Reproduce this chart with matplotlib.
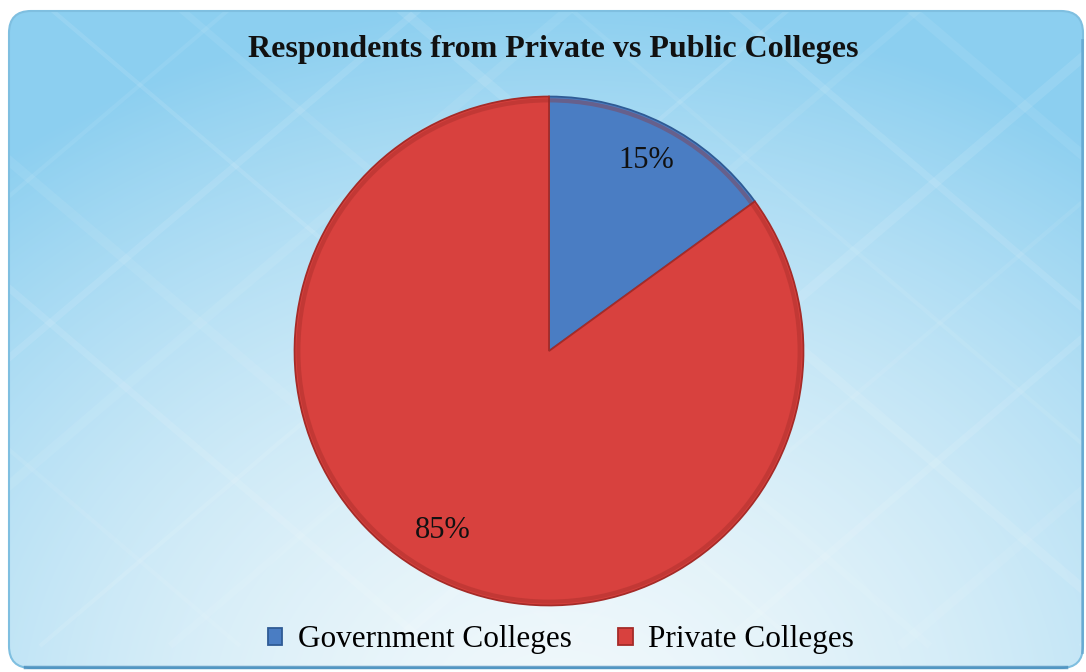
import matplotlib
matplotlib.use("Agg")
import matplotlib.pyplot as plt
import numpy as np
from matplotlib.patches import FancyBboxPatch, Circle

# chart data
categories = ["Government Colleges", "Private Colleges"]
shares = [15, 85]
colors = ["#4a7dc3", "#d8413e"]
edge_colors = ["#2f5b95", "#a52b28"]
title = "Respondents from Private vs Public Colleges"

W, H = 1086, 672
fig = plt.figure(figsize=(W / 100, H / 100), dpi=100)
fig.patch.set_facecolor("white")

# background panel: blue at the top, fading to near white toward the bottom middle
bg = fig.add_axes([0, 0, 1, 1])
bg.set_xlim(0, W)
bg.set_ylim(H, 0)
bg.axis("off")

yy, xx = np.mgrid[0:H, 0:W]
d = np.sqrt(((xx - 560) / 900.0) ** 2 + ((yy - 720) / 720.0) ** 2)
t = np.clip(d, 0, 1) ** 1.6
light = np.array([240, 248, 251]) / 255.0
dark = np.array([140, 207, 240]) / 255.0
img = light[None, None, :] * (1 - t[..., None]) + dark[None, None, :] * t[..., None]
panel = FancyBboxPatch((9, 11), W - 12, H - 15, boxstyle="round,pad=0,rounding_size=22",
                       facecolor="none", edgecolor="none", zorder=3)
bg.add_patch(panel)
im = bg.imshow(img, extent=(0, W, H, 0), zorder=1, aspect="auto")
im.set_clip_path(panel)

# soft diagonal streaks
offsets = [-520, -330, -180, 40, 170, 390, 560, 720, 900, 1080, 1240]
for i, off in enumerate(offsets):
    for sgn in (1, -1):
        xs = np.array([off, off + 760]) if sgn > 0 else np.array([off + 760, off])
        ys = np.array([0, 760 * 0.85])
        ln, = bg.plot(xs, ys, color="white", lw=3 + (i % 3) * 2,
                      alpha=0.07 + 0.03 * (i % 2), zorder=2, solid_capstyle="butt")
        ln.set_clip_path(panel)

# panel border, darker along the lower and right edges
border = FancyBboxPatch((9, 11), W - 12, H - 15, boxstyle="round,pad=0,rounding_size=22",
                        facecolor="none", edgecolor="#7fbfe0", lw=1.5, zorder=3)
bg.add_patch(border)
bg.plot([25, W - 20], [H - 5, H - 5], color="#3f86b8", lw=2.5, alpha=0.7, zorder=4)
bg.plot([W - 4, W - 4], [40, H - 20], color="#5a9cc8", lw=2, alpha=0.6, zorder=4)

# pie
cx, cy, r = 549, 351, 257
ax = fig.add_axes([(cx - r) / W, 1 - (cy + r) / H, 2 * r / W, 2 * r / H])
wedges, texts, autotexts = ax.pie(
    shares, colors=colors, startangle=90, counterclock=False,
    autopct="%d%%", pctdistance=0.84, radius=1,
    wedgeprops=dict(linewidth=1.3),
    textprops=dict(fontsize=22, family="Liberation Serif", color="#111111"))
for w, ec in zip(wedges, edge_colors):
    w.set_edgecolor(ec)
# darker rim around the pie
ax.add_patch(Circle((0, 0), 0.985, fill=False, edgecolor="#9b2a27", lw=3, alpha=0.35, zorder=3))
autotexts[1].set_position((autotexts[1].get_position()[0] * 1.1,
                           autotexts[1].get_position()[1] * 0.94))
ax.set_xlim(-1.01, 1.01)
ax.set_ylim(-1.01, 1.01)
ax.set_aspect("equal")
ax.axis("off")

fig.text(553 / W, 1 - 49 / H, title, ha="center", va="center",
         fontsize=23, fontweight="bold", family="Liberation Serif", color="#111111")

fig.legend(wedges, categories, loc="center", bbox_to_anchor=(561 / W, 1 - 640 / H),
           ncol=2, frameon=False, handlelength=0.45, handleheight=0.45,
           handletextpad=0.5, columnspacing=1.5,
           prop=dict(family="Liberation Serif", size=22.5))

fig.savefig("out.png", dpi=100)
